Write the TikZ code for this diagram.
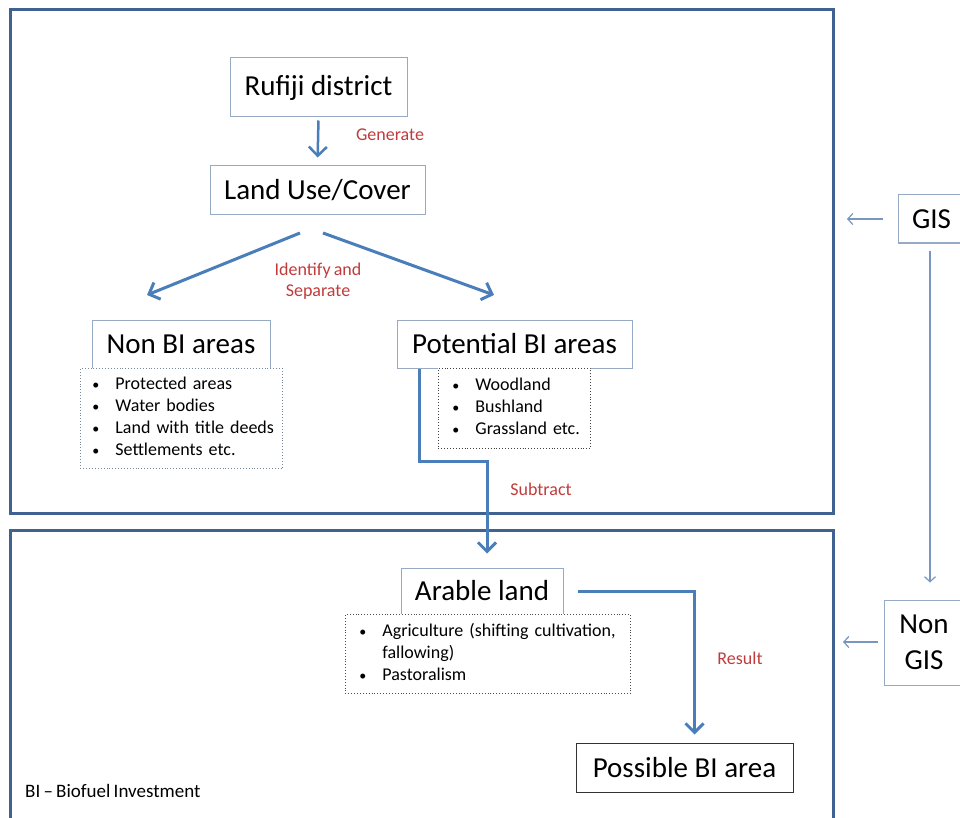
\documentclass[tikz,border=0pt]{standalone}
\usepackage{fontspec}
\setmainfont{Carlito}
\newfontfamily\smallfont{Carlito}[WordSpace=0.75]
\usetikzlibrary{arrows.meta}
\definecolor{framec}{RGB}{63,98,145}
\definecolor{arrc}{RGB}{74,126,187}
\definecolor{boxc}{RGB}{150,170,195}
\definecolor{redc}{RGB}{192,60,60}
\definecolor{thinc}{RGB}{120,150,190}
\newcommand{\bul}{{\fontsize{14}{14}\selectfont •}}
\begin{document}
\begin{tikzpicture}[x=1pt,y=-1pt,
  frame/.style={draw=framec, line width=3pt},
  bigbox/.style={draw=boxc, line width=1pt, fill=white, inner sep=0pt, font=\fontsize{29}{34}\selectfont},
  lstbox/.style={draw=#1, dotted, line width=0.9pt, fill=white, anchor=north west, align=left, inner ysep=0pt, font=\smallfont\fontsize{18}{22}\selectfont},
  lbl/.style={text=redc, font=\smallfont\fontsize{18}{21}\selectfont, align=center},
  thickarr/.style={draw=arrc, line width=3pt, -{Straight Barb[length=9pt,width=18pt]}},
  thinarr/.style={draw=thinc, line width=1.2pt, -{Straight Barb[length=5pt,width=11pt]}}
]
\useasboundingbox (0,0) rectangle (960,818);
\fill[white] (0,0) rectangle (960,818);
% frames
\draw[frame] (10,10) rectangle (833,513);
\draw[frame] (10,840) -- (10,530) -- (833,530) -- (833,840);

% top nodes
\node[bigbox, minimum width=177pt, minimum height=59pt] (ruf) at (318.5,87.5) {Rufiji district};
\node[bigbox, minimum width=215pt, minimum height=49pt] (luc) at (317.5,190.5) {Land Use/Cover};
\node[bigbox, minimum width=178pt, minimum height=48pt] (non) at (181,344) {Non BI areas};
\node[bigbox, minimum width=235pt, minimum height=48pt] (pot) at (514.5,344) {Potential BI areas};

% lists
\node[lstbox=boxc!80!black, minimum width=202pt, minimum height=100pt, inner xsep=12pt, text width=178pt] (l1) at (80,368)
  {\begin{tabular}{@{}l@{\hspace{16pt}}l@{}}\bul&Protected areas\\\bul&Water bodies\\\bul&Land with title deeds\\\bul&Settlements etc.\end{tabular}};
\node[lstbox=black!75, minimum width=152pt, minimum height=80pt, inner xsep=14pt, text width=124pt] (l2) at (438,368)
  {\begin{tabular}{@{}l@{\hspace{16pt}}l@{}}\bul&Woodland\\\bul&Bushland\\\bul&Grassland etc.\end{tabular}};

% bottom nodes
\node[bigbox, minimum width=162pt, minimum height=46pt] (ar) at (482,591) {Arable land};
\node[lstbox=black!70, minimum width=285pt, minimum height=79pt, inner xsep=14pt, text width=257pt] (l3) at (345,614)
  {\begin{tabular}{@{}l@{\hspace{16pt}}l@{}}\bul&Agriculture (shifting cultivation,\\&fallowing)\\\bul&Pastoralism\end{tabular}};
\node[bigbox, draw=black!80, minimum width=217pt, minimum height=49pt] (pos) at (684.5,767.5) {Possible BI area};
\node[anchor=west, inner sep=0pt, font=\smallfont\fontsize{19}{22}\selectfont] (note) at (25,791) {BI – Biofuel Investment};

% side nodes
\node[bigbox, minimum width=67pt, minimum height=48pt] (gis) at (931.5,219) {GIS};
\node[bigbox, minimum width=80pt, minimum height=85pt, align=center, font=\fontsize{29}{36}\selectfont] (ngis) at (924,642.5) {Non\\GIS};

% labels
\node[lbl] (lgen) at (390,135) {Generate};
\node[lbl] (lid) at (318,281) {Identify and\\Separate};
\node[lbl] (lsub) at (541,489) {Subtract};
\node[lbl] (lres) at (740,658) {Result};

% connectors
\draw[thickarr, line width=2.5pt, shorten <=3pt, shorten >=8pt] (ruf.south) -- (luc.south |- luc.north);
\coordinate (s1) at (300,233);
\coordinate (e1) at (147,295);
\coordinate (s2) at (323,233);
\coordinate (e2) at (494,295);
\draw[thickarr] (s1) -- (e1);
\draw[thickarr] (s2) -- (e2);
\coordinate (bend) at (487,461);
\draw[thickarr, shorten >=14pt] ([xshift=23pt]pot.south west) |- (bend) -- ([xshift=5pt]ar.north);
\draw[thickarr, shorten <=14pt, shorten >=8pt] (ar.east) -| ([xshift=10pt]pos.north);

\coordinate (ga) at (847,219);
\coordinate (na) at (843,642);
\draw[thinarr, shorten <=15pt] (gis.west) -- (ga);
\draw[thinarr, shorten <=6pt] (ngis.west |- na) -- (na);
\draw[thinarr, shorten <=7pt, shorten >=17pt] ([xshift=-1.5pt]gis.south) -- ([xshift=-1.5pt]gis.south |- ngis.north);
\end{tikzpicture}
\end{document}
